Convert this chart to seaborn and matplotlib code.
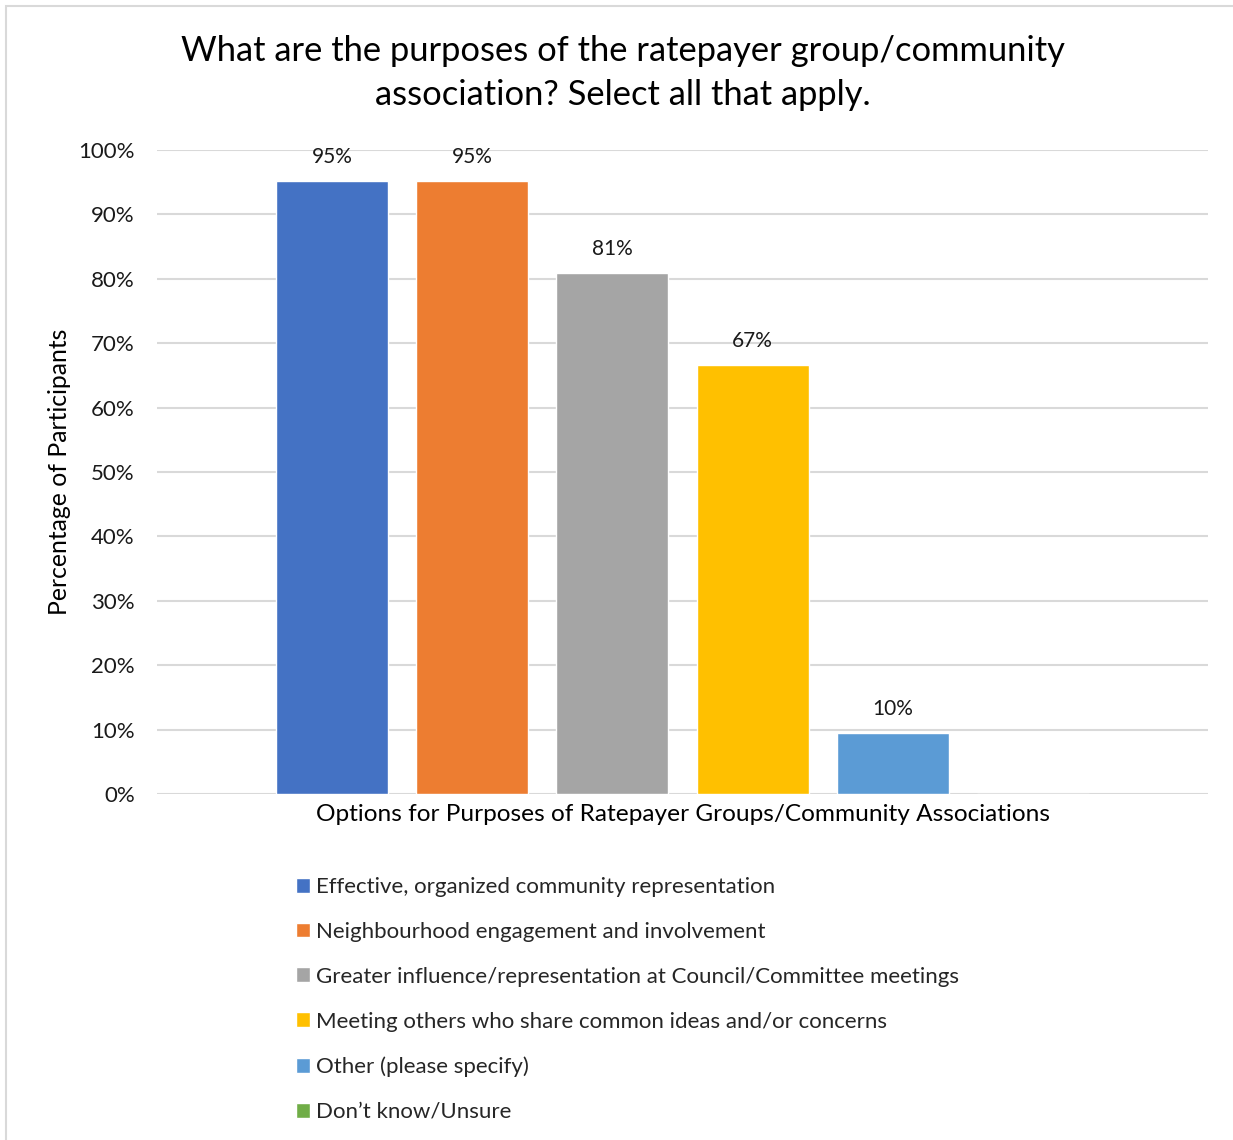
import matplotlib
matplotlib.use("Agg")
import matplotlib.pyplot as plt
from matplotlib.patches import Rectangle
from matplotlib.ticker import PercentFormatter
import pandas as pd
import seaborn as sns

# Survey results
options = [
    "Effective, organized community representation",
    "Neighbourhood engagement and involvement",
    "Greater influence/representation at Council/Committee meetings",
    "Meeting others who share common ideas and/or concerns",
    "Other (please specify)",
    "Don\u2019t know/Unsure",
]
percentages = [95.24, 95.24, 80.95, 66.67, 9.52, 0.0]
colors = ["#4472C4", "#ED7D31", "#A5A5A5", "#FFC000", "#5B9BD5", "#70AD47"]
y_ticks = [0, 10, 20, 30, 40, 50, 60, 70, 80, 90, 100]

title = "What are the purposes of the ratepayer group/community\nassociation? Select all that apply."
x_title = "Options for Purposes of Ratepayer Groups/Community Associations"
y_title = "Percentage of Participants"

df = pd.DataFrame({
    "group": [x_title] * len(options),
    "option": options,
    "pct": percentages,
})

sns.set_theme(style="white")
plt.rcParams["font.family"] = ["Lato", "DejaVu Sans"]
text_color = "#000000"

fig = plt.figure(figsize=(12.33, 11.4), dpi=100)
ax = fig.add_axes([157 / 1233, 1 - 794 / 1140, (1208 - 157) / 1233, (794 - 150) / 1140])

sns.barplot(data=df, x="group", y="pct", hue="option", hue_order=options,
            palette=colors, width=0.8, gap=0.2, saturation=1, ax=ax,
            errorbar=None, legend=True)

ax.set_ylim(0, 100)
ax.set_yticks(y_ticks)
ax.yaxis.set_major_formatter(PercentFormatter(decimals=0))
ax.grid(axis="y", color="#D9D9D9", linewidth=1.5)
ax.set_axisbelow(True)
for s in ax.spines.values():
    s.set_visible(False)
ax.tick_params(axis="y", length=0, labelsize=16, pad=16, labelcolor="#1a1a1a")
ax.tick_params(axis="x", length=0, labelbottom=False)
ax.set_xlabel("")
ax.set_ylabel(y_title, fontsize=17.8, color=text_color, labelpad=5)
ax.text(0.5, -0.016, x_title, transform=ax.transAxes, ha="center", va="top",
        fontsize=17.6, color=text_color)

for cont, val in zip(ax.containers, percentages):
    if val > 0:
        ax.bar_label(cont, labels=[f"{val:.0f}%"], padding=10, fontsize=15,
                     color="#1a1a1a")

handles, labels = ax.get_legend_handles_labels()
ax.get_legend().remove()
fig.legend(handles, labels, loc="upper left", bbox_to_anchor=(287 / 1233, 1 - 868 / 1140),
           frameon=False, fontsize=16, handlelength=0.65, handleheight=0.65,
           handletextpad=0.25, labelspacing=1.12, borderaxespad=0)

fig.text(0.505, 1 - 35 / 1140, title, ha="center", va="top", fontsize=24.8,
         color=text_color, linespacing=1.46)

fig.patches.append(Rectangle((6 / 1233, -0.01), 1.1, 1 - 6 / 1140 + 0.01,
                             transform=fig.transFigure, fill=False,
                             edgecolor="#D9D9D9", linewidth=1.5))

fig.savefig("out.png", dpi=100)
